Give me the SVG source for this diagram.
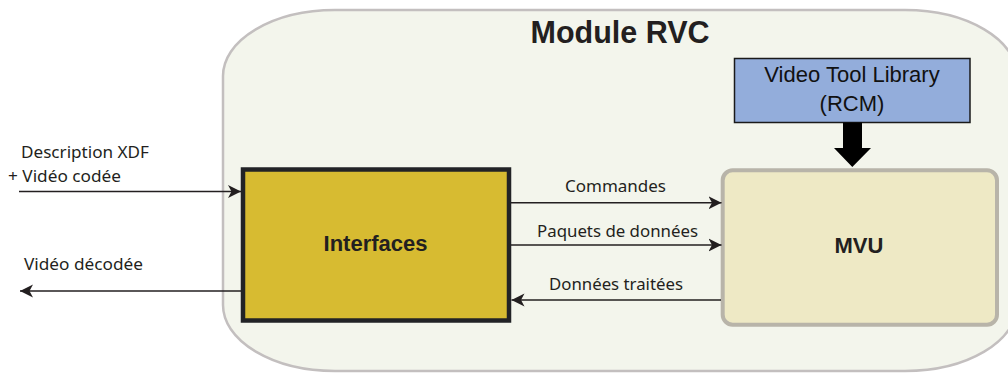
<svg xmlns="http://www.w3.org/2000/svg" width="1008" height="373" viewBox="0 0 1008 373">
<style>
.lbl{font-family:"Noto Sans","Open Sans",sans-serif;font-size:16.5px;fill:#231f20}
.bold{font-family:"Liberation Sans",Arial,sans-serif;font-weight:bold;fill:#231f20}
.reg{font-family:"Liberation Sans",Arial,sans-serif;fill:#111}
.ln{stroke:#231f20;stroke-width:1.6;fill:none}
</style>
<defs>
<marker id="ah" markerUnits="userSpaceOnUse" markerWidth="14" markerHeight="14" viewBox="0 0 14 14" refX="13" refY="7" orient="auto">
<path d="M0,0.5 L13,7 L0,13.5 L3.5,7 Z" fill="#231f20"/>
</marker>
</defs>
<g id="module">
<rect x="223" y="10" width="794" height="361" rx="112" ry="66" fill="#f3f5ec" stroke="#c3bfbf" stroke-width="2.5"/>
<text class="bold" x="620" y="43" font-size="30.5" text-anchor="middle">Module RVC</text>
</g>
<g id="vtl">
<rect x="734.5" y="58.5" width="235.5" height="64" fill="#93addb" stroke="#1a1a1a" stroke-width="1.5"/>
<text class="reg" x="852" y="82" font-size="22" text-anchor="middle">Video Tool Library</text>
<text class="reg" x="852" y="111" font-size="22" text-anchor="middle">(RCM)</text>
</g>
<g id="interfaces">
<rect x="243" y="169.5" width="266" height="151" fill="#d7bb31" stroke="#222326" stroke-width="4.5"/>
<text class="bold" x="375.5" y="250.5" font-size="22" text-anchor="middle">Interfaces</text>
</g>
<g id="mvu">
<rect x="722.7" y="170.3" width="274.3" height="154.4" rx="10" fill="#eee9c5" stroke="#b8b4a9" stroke-width="4"/>
<text class="bold" x="859" y="253.3" font-size="22" text-anchor="middle">MVU</text>
</g>
<g id="connectors">
<polygon points="843,122.5 862,122.5 862,148 871,148 852.3,167 834,148 843,148" fill="#000"/>
<line class="ln" x1="19" y1="191.5" x2="241" y2="191.5" marker-end="url(#ah)"/>
<line class="ln" x1="241" y1="291" x2="20" y2="291" marker-end="url(#ah)"/>
<line class="ln" x1="511" y1="202.7" x2="721.5" y2="202.7" marker-end="url(#ah)"/>
<line class="ln" x1="511" y1="245" x2="721.5" y2="245" marker-end="url(#ah)"/>
<line class="ln" x1="721" y1="300" x2="511.5" y2="300" marker-end="url(#ah)"/>
<text class="lbl" x="21" y="158" textLength="128" lengthAdjust="spacingAndGlyphs">Description XDF</text>
<text class="lbl" x="8" y="181.5" textLength="113" lengthAdjust="spacingAndGlyphs">+ Vidéo codée</text>
<text class="lbl" x="24" y="270" textLength="119" lengthAdjust="spacingAndGlyphs">Vidéo décodée</text>
<text class="lbl" x="565" y="191.5" textLength="101" lengthAdjust="spacingAndGlyphs">Commandes</text>
<text class="lbl" x="537" y="236.5" textLength="161" lengthAdjust="spacingAndGlyphs">Paquets de données</text>
<text class="lbl" x="549" y="290" textLength="134" lengthAdjust="spacingAndGlyphs">Données traitées</text>
</g>
</svg>
